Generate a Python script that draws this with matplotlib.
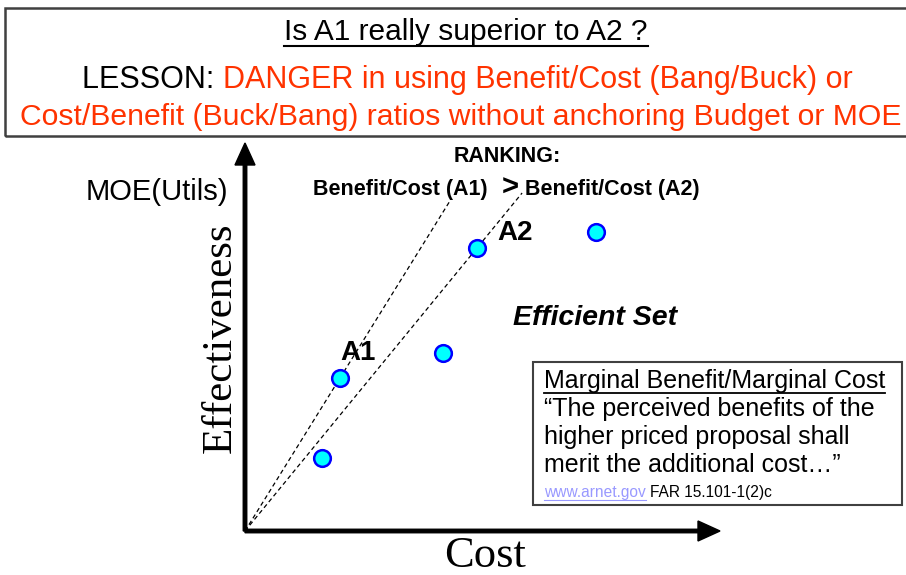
import matplotlib
matplotlib.use("Agg")
import matplotlib.pyplot as plt
from matplotlib.patches import Rectangle, FancyArrow
from matplotlib.lines import Line2D

plt.rcParams['font.family'] = ['Liberation Sans', 'DejaVu Sans']

# alternatives: cost and effectiveness (arbitrary units, origin at 0)
cost = [0.77, 0.95, 1.98, 2.32, 3.51]
effectiveness = [0.73, 1.53, 1.78, 2.83, 2.99]
names = ['', 'A1', '', 'A2', '']
# benefit/cost rays are drawn through these two alternatives
ray_idx = [1, 3]
ray_top = [3.31, 3.38]

W, H = 906, 575
fig = plt.figure(figsize=(W / 100, H / 100), dpi=100)
ax = fig.add_axes([0, 0, 1, 1])
ax.set_xlim(-2.45, 6.61)
ax.set_ylim(-0.44, 5.31)
ax.axis('off')


def fx(x):
    return x / W


def fy(y):
    return 1 - y / H


renderer = fig.canvas.get_renderer()


def underline(t, dy=0, lw=1.5, color='black'):
    bb = t.get_window_extent(renderer)
    y = bb.y0 + dy
    fig.add_artist(Line2D([bb.x0 / W, bb.x1 / W], [y / H, y / H], lw=lw,
                          color=color, transform=fig.transFigure))


# header box
fig.add_artist(Rectangle((fx(5), fy(136)), fx(910) - fx(5), fy(8) - fy(136),
                         transform=fig.transFigure, fill=False,
                         edgecolor='#404040', lw=1.8))

t = fig.text(fx(466), fy(32), 'Is A1 really superior to A2 ?', fontsize=21.5,
             ha='center', va='center')
underline(t)

red = '#FF3300'
t1 = fig.text(fx(82), fy(80), 'LESSON: ', fontsize=22, va='center')
bb = t1.get_window_extent(renderer)
fig.text(bb.x1 / W, fy(80), 'DANGER in using Benefit/Cost (Bang/Buck) or',
         fontsize=22, va='center', color=red)
fig.text(fx(20), fy(117),
         'Cost/Benefit (Buck/Bang) ratios without anchoring Budget or MOE',
         fontsize=21.7, va='center', color=red)

# axes arrows
ax.add_patch(FancyArrow(0, 0, 0, 3.88, width=0.035, head_width=0.2,
                        head_length=0.22, length_includes_head=True,
                        color='black'))
ax.add_patch(FancyArrow(0, 0, 4.75, 0, width=0.035, head_width=0.2,
                        head_length=0.22, length_includes_head=True,
                        color='black'))

# benefit/cost rays
for i, top in zip(ray_idx, ray_top):
    slope = effectiveness[i] / cost[i]
    ax.plot([0, top / slope], [0, top], color='black', lw=0.9,
            ls=(0, (3.5, 2.5)))

ax.plot(cost, effectiveness, 'o', ms=12, mfc='#00FFFF', mec='#0000FF',
        mew=1.8, ls='none', zorder=5)

ax.text(cost[1] + 0.18, effectiveness[1] + 0.25, names[1], fontsize=20,
        fontweight='bold', ha='center', va='center')
ax.text(cost[3] + 0.2, effectiveness[3] + 0.15, names[3], fontsize=20,
        fontweight='bold', ha='left', va='center')

# axis labels
fig.text(fx(485), fy(556), 'Cost', fontsize=32, family='Liberation Serif',
         ha='center', va='center')
fig.text(fx(220), fy(338), 'Effectiveness', fontsize=31,
         family='Liberation Serif', rotation=90, ha='center', va='center')
fig.text(fx(228), fy(192), 'MOE(Utils)', fontsize=21, ha='right',
         va='center')

# ranking
fig.text(fx(507), fy(157), 'RANKING:', fontsize=15.5, fontweight='bold',
         ha='center', va='center')
fig.text(fx(488), fy(190), 'Benefit/Cost (A1)', fontsize=15.5,
         fontweight='bold', ha='right', va='center')
fig.text(fx(510), fy(188), '>', fontsize=21, fontweight='bold',
         ha='center', va='center')
fig.text(fx(525), fy(190), 'Benefit/Cost (A2)', fontsize=15.5,
         fontweight='bold', ha='left', va='center')

fig.text(fx(513), fy(318), 'Efficient Set', fontsize=20.5, style='italic',
         fontweight='bold', ha='left', va='center')

# FAR quote box
fig.add_artist(Rectangle((fx(533), fy(505)), fx(902) - fx(533),
                         fy(362) - fy(505), transform=fig.transFigure,
                         fill=False, edgecolor='#404040', lw=1.5))
t = fig.text(fx(544), fy(381), 'Marginal Benefit/Marginal Cost', fontsize=18,
             ha='left', va='center')
underline(t, lw=1.3)
quote = ['\u201cThe perceived benefits of the',
         'higher priced proposal shall',
         'merit the additional cost\u2026\u201d']
for k, line in enumerate(quote):
    fig.text(fx(544), fy(409 + 28 * k), line, fontsize=18, ha='left',
             va='center')
t = fig.text(fx(544), fy(492), 'www.arnet.gov', fontsize=11.2,
             color='#9999FF', ha='left', va='center')
underline(t, lw=0.8, color='#9999FF')
bb = t.get_window_extent(renderer)
fig.text(bb.x1 / W + fx(4), fy(492), 'FAR 15.101-1(2)c', fontsize=11.2,
         ha='left', va='center')

fig.savefig('out.png', dpi=100)
